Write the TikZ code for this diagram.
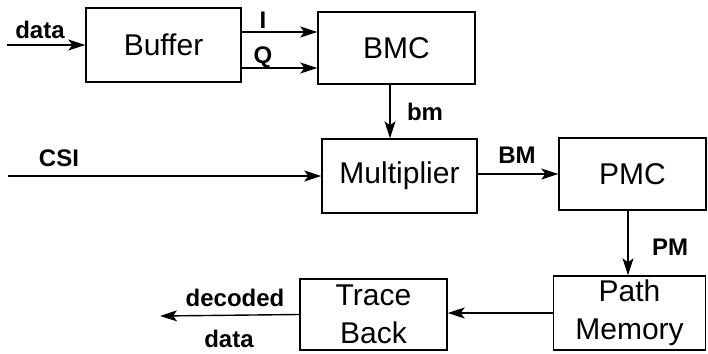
\documentclass[tikz,border=0pt]{standalone}
\usepackage{fontspec}
\setmainfont{Liberation Sans}
\usetikzlibrary{arrows.meta}
\begin{document}
\begin{tikzpicture}
  [x=1pt,y=-1pt,line width=1.4pt,>={Stealth[length=17pt,width=11pt,inset=4pt]},
   box/.style={draw,rectangle,inner sep=0pt,align=center,font=\fontsize{30}{38}\selectfont},
   lbl/.style={inner sep=0pt,font=\bfseries\fontsize{24}{26}\selectfont}]
  \useasboundingbox (0,0) rectangle (708,353);
  \node[box,minimum width=155pt,minimum height=74pt] (buf) at (163.5,45) {Buffer};
  \node[box,minimum width=157pt,minimum height=72pt] (bmc) at (396.5,48) {BMC};
  \node[box,minimum width=155pt,minimum height=74pt] (mult) at (399.5,176) {Multiplier};
  \node[box,minimum width=147pt,minimum height=72pt] (pmc) at (632.5,174) {PMC};
  \node[box,minimum width=152pt,minimum height=74pt] (pmem) at (629.5,313) {Path\\Memory};
  \node[box,minimum width=147pt,minimum height=71pt] (tb) at (373.5,314.5) {Trace\\Back};
  \coordinate (din) at (7,45);
  \coordinate (csi) at (8,176);
  \coordinate (dout) at (160,316);

  \node[lbl] (ldata) at (40,30) {data};
  \node[lbl] (li) at (263,20) {I};
  \node[lbl] (lq) at (263,57) {Q};
  \node[lbl] (lbm) at (425,112) {bm};
  \node[lbl] (lcsi) at (59,158) {CSI};
  \node[lbl] (lBM) at (517,155) {BM};
  \node[lbl] (lpm) at (670,247) {PM};
  \node[lbl] (ldec) at (235,298) {decoded};
  \node[lbl] (lout) at (229,339) {data};

  \foreach \from/\to in {din/buf.west,csi/mult.west,tb.west/dout}
    \draw[->] (\from) -- (\to);
  \draw[->] (buf.east |- 0,32) -- (bmc.west |- 0,32);
  \draw[->] (buf.east |- 0,68) -- (bmc.west |- 0,68);
  \draw[->] (bmc.south -| 390,0) -- (mult.north -| 390,0);
  \draw[->] (mult.east |- 0,174) -- (pmc.west |- 0,174);
  \draw[->] (pmc.south -| 628,0) -- (pmem.north -| 628,0);
  \draw[->] (pmem.west |- 0,313) -- (tb.east |- 0,313);
\end{tikzpicture}
\end{document}
